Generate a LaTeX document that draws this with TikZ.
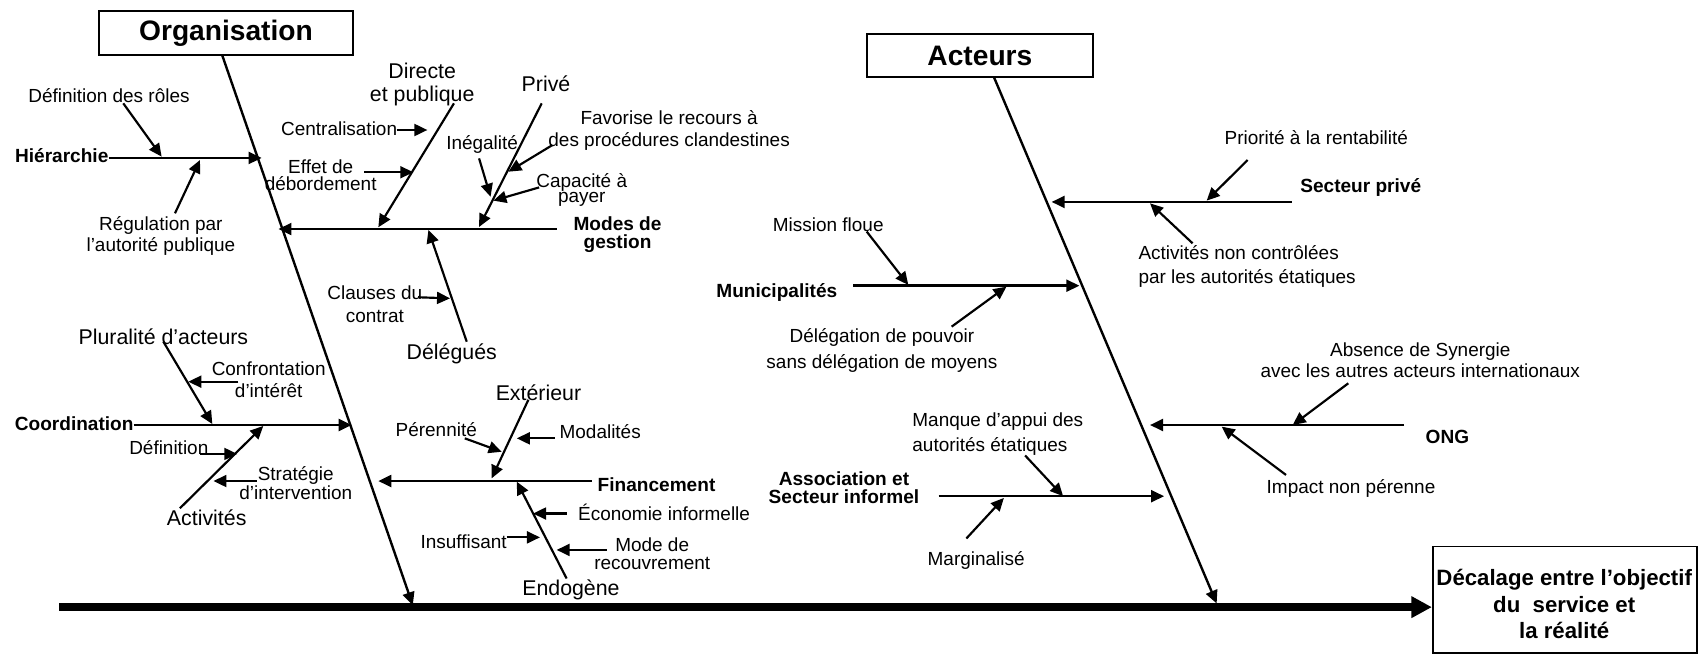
\documentclass[tikz,border=0pt]{standalone}
\usepackage{fontspec}
\setmainfont{Liberation Sans}
\usetikzlibrary{arrows.meta}
\begin{document}
\begin{tikzpicture}[x=1pt,y=-1pt,
  lbl/.style={inner sep=0pt, align=center, anchor=base, font=\fontsize{17.5}{21}\selectfont},
  big/.style={lbl, font=\fontsize{19.7}{21.5}\selectfont},
  cat/.style={lbl, font=\bfseries\fontsize{17.6}{17}\selectfont},
  titlebox/.style={draw, line width=1.8pt, inner sep=0pt, font=\bfseries\fontsize{26}{28}\selectfont},
  effectbox/.style={draw, line width=1.5pt, inner sep=0pt, align=center, font=\bfseries\fontsize{20.5}{24.5}\selectfont},
  spine/.style={line width=2.2pt, -{Triangle[length=12pt,width=11pt]}},
  arr/.style={line width=2pt, -{Triangle[length=12pt,width=11pt]}},
  mainspine/.style={line width=7.2pt, -{Triangle[length=19pt,width=19pt]}},
]
\useasboundingbox (0,0) rectangle (1567.3,603.6);

% ---------- title boxes ----------
\node[titlebox, minimum width=233.8pt, minimum height=40.2pt] (org) at (208.6,30.6) {Organisation};
\node[titlebox, minimum width=209pt, minimum height=40pt] (act) at (904.5,51.4) {Acteurs};
\node[effectbox, minimum width=244.1pt, minimum height=98.2pt] (eff) at (1444.45,553.7) {};
\node[lbl, font=\bfseries\fontsize{20.5}{24.5}\selectfont] (efftxt) at (1443.8,589.4) {Décalage entre l’objectif\\du\ \ service et\\la réalité};

% ---------- main spine ----------
\coordinate (ms0) at (54.5,560.4);
\draw[mainspine] (ms0) -- (eff.west |- ms0);

% ---------- Organisation ----------
\coordinate (os0) at (205,50.7);
\coordinate (os1) at (381,558.6);
\draw[spine] (os0) -- (os1);

% Hierarchie
\node[cat] (hier) at (57,150.3) {Hiérarchie};
\coordinate (hierT) at (241.5,145.8);
\draw[spine] (hier.east |- hierT) -- (hierT);
\node[lbl] (defroles) at (100.6,94.9) {Définition des rôles};
\coordinate (dr0) at (113.8,95.4); \coordinate (dr1) at (149.2,144.6);
\draw[arr] (dr0) -- (dr1);
\node[lbl, font=\fontsize{17.5}{20}\selectfont] (regul) at (148.5,232.3) {Régulation par\\l’autorité publique};
\coordinate (rg0) at (161.5,196.9); \coordinate (rg1) at (184.6,147.7);
\draw[arr] (rg0) -- (rg1);

% Modes de gestion
\node[cat] (modes) at (570,229.5) {Modes de\\gestion};
\coordinate (mg0) at (514.1,211.4); \coordinate (mgT) at (257,211.4);
\draw[spine] (mg0) -- (mgT);
\node[big] (directe) at (389.7,93.8) {Directe\\et publique};
\coordinate (di0) at (419,95.4); \coordinate (di1) at (349.2,209.8);
\draw[arr] (di0) -- (di1);
\node[lbl] (central) at (313,124.7) {Centralisation};
\coordinate (ce0) at (366,120); \coordinate (ce1) at (394.5,120);
\draw[arr] (ce0) -- (ce1);
\node[lbl, font=\fontsize{17.5}{16}\selectfont] (effet) at (296,176.1) {Effet de\\débordement};
\coordinate (ef0) at (336,159); \coordinate (ef1) at (381.5,159);
\draw[arr] (ef0) -- (ef1);
\node[big] (prive) at (504,84.1) {Privé};
\coordinate (pr0) at (500,95.4); \coordinate (pr1) at (442.2,209.5);
\draw[arr] (pr0) -- (pr1);
\node[lbl] (inegal) at (445,138) {Inégalité};
\coordinate (in0) at (442.2,146.2); \coordinate (in1) at (452.8,181.6);
\draw[arr] (in0) -- (in1);
\node[lbl, font=\fontsize{17.5}{21}\selectfont] (favor) at (617.6,135.6) {Favorise le recours à\\des procédures clandestines};
\coordinate (fa0) at (509.9,133.9); \coordinate (fa1) at (469.3,158.5);
\draw[arr] (fa0) -- (fa1);
\node[lbl, font=\fontsize{17.5}{13}\selectfont] (capac) at (537,187) {Capacité à\\payer};
\coordinate (ca0) at (497.6,173); \coordinate (ca1) at (455.4,185.2);
\draw[arr] (ca0) -- (ca1);
\node[big] (deleg) at (417,331.7) {Délégués};
\coordinate (de0) at (430.8,315.4); \coordinate (de1) at (395.4,212.3);
\draw[arr] (de0) -- (de1);
\node[lbl, font=\fontsize{17.5}{21.6}\selectfont] (clauses) at (346,298) {Clauses du\\contrat};
\coordinate (cl0) at (386,274.4); \coordinate (cl1) at (415.4,275.4);
\draw[arr] (cl0) -- (cl1);

% Coordination
\node[cat] (coord) at (68.5,397.7) {Coordination};
\coordinate (coT) at (324.6,392.3);
\draw[spine] (coord.east |- coT) -- (coT);
\node[big] (plural) at (150.8,317.8) {Pluralité d’acteurs};
\coordinate (pl0) at (150.8,315.4); \coordinate (pl1) at (196,391.4);
\draw[arr] (pl0) -- (pl1);
\node[lbl, font=\fontsize{17.5}{20.6}\selectfont] (confr) at (248,366.9) {Confrontation\\d’intérêt};
\coordinate (cf0) at (220,352.3); \coordinate (cf1) at (173.8,352.3);
\draw[arr] (cf0) -- (cf1);
\node[lbl] (defin) at (155.8,419.2) {Définition};
\coordinate (dn0) at (184.6,419); \coordinate (dn1) at (219,419);
\draw[arr] (dn0) -- (dn1);
\node[big] (activ) at (190.8,485.5) {Activités};
\coordinate (ac0) at (166,469.2); \coordinate (ac1) at (243,393.2);
\draw[arr] (ac0) -- (ac1);
\node[lbl, font=\fontsize{17.5}{16.3}\selectfont] (strat) at (273,461) {Stratégie\\d’intervention};
\coordinate (st0) at (237,444); \coordinate (st1) at (197,444);
\draw[arr] (st0) -- (st1);

% Financement
\node[cat] (financ) at (606,454) {Financement};
\coordinate (fi0) at (546,444); \coordinate (fiT) at (349.2,444);
\draw[spine] (fi0) -- (fiT);
\node[big] (exter) at (497,370.1) {Extérieur};
\coordinate (ex0) at (487.7,369); \coordinate (ex1) at (453.8,441.5);
\draw[arr] (ex0) -- (ex1);
\node[lbl] (perenn) at (402.7,402.7) {Pérennité};
\coordinate (pe0) at (429,404.6); \coordinate (pe1) at (463,417);
\draw[arr] (pe0) -- (pe1);
\node[lbl] (modal) at (554,404.8) {Modalités};
\coordinate (mo0) at (512,404.6); \coordinate (mo1) at (477,404.6);
\draw[arr] (mo0) -- (mo1);
\node[big] (endog) at (527,550.1) {Endogène};
\coordinate (en0) at (523,534); \coordinate (en1) at (477,444.6);
\draw[arr] (en0) -- (en1);
\node[lbl] (econ) at (613,480.3) {Économie informelle};
\coordinate (ec0) at (523,474); \coordinate (ec1) at (492,474);
\draw[arr] (ec0) -- (ec1);
\node[lbl] (insuff) at (428,506.3) {Insuffisant};
\coordinate (is0) at (467.7,496); \coordinate (is1) at (498.4,496);
\draw[arr] (is0) -- (is1);
\node[lbl, font=\fontsize{17.5}{16}\selectfont] (moderec) at (602,525.3) {Mode de\\recouvrement};
\coordinate (mr0) at (560,507.6); \coordinate (mr1) at (513.8,507.6);
\draw[arr] (mr0) -- (mr1);

% ---------- Acteurs ----------
\coordinate (as0) at (917.5,71.4);
\coordinate (as1) at (1123,557);
\draw[spine] (as0) -- (as1);

% Secteur prive
\node[cat] (secteur) at (1256,178) {Secteur privé};
\coordinate (sp0) at (1192.2,186.4); \coordinate (spT) at (970.7,186.4);
\draw[spine] (sp0) -- (spT);
\node[lbl] (prior) at (1215,133) {Priorité à la rentabilité};
\coordinate (po0) at (1151.6,147.7); \coordinate (po1) at (1113.8,185.2);
\draw[arr] (po0) -- (po1);
\node[lbl, align=left, anchor=base west, font=\fontsize{17.5}{22.2}\selectfont] (activnc) at (1050.7,261.7) {Activités non contrôlées\\par les autorités étatiques};
\coordinate (an0) at (1100.8,224.6); \coordinate (an1) at (1061.5,187.7);
\draw[arr] (an0) -- (an1);

% Municipalites
\node[cat] (munic) at (717,274.3) {Municipalités};
\coordinate (mu0) at (787.6,263.7); \coordinate (muT) at (996.3,263.7);
\draw[spine] (mu0) -- (muT);
\node[lbl] (mission) at (764.5,213.3) {Mission floue};
\coordinate (mi0) at (800,213.8); \coordinate (mi1) at (838.4,263);
\draw[arr] (mi0) -- (mi1);
\node[lbl, font=\fontsize{17.5}{23.8}\selectfont] (delegp) at (814,340.1) {Délégation de pouvoir\\sans délégation de moyens};
\coordinate (dp0) at (878.4,301.5); \coordinate (dp1) at (929,264.6);
\draw[arr] (dp0) -- (dp1);

% ONG
\node[cat] (ong) at (1336,409.3) {ONG};
\coordinate (on0) at (1296,392.3); \coordinate (onT) at (1061.5,392.3);
\draw[spine] (on0) -- (onT);
\node[lbl, font=\fontsize{17.5}{19}\selectfont] (absence) at (1311,348.3) {Absence de Synergie\\avec les autres acteurs internationaux};
\coordinate (ab0) at (1244.5,353.8); \coordinate (ab1) at (1193.2,392.3);
\draw[arr] (ab0) -- (ab1);
\node[lbl] (impact) at (1247,455.5) {Impact non pérenne};
\coordinate (im0) at (1187,438.4); \coordinate (im1) at (1127.6,393.8);
\draw[arr] (im0) -- (im1);

% Association et Secteur informel
\node[cat] (assoc) at (779,464.8) {Association et\\Secteur informel};
\coordinate (sa0) at (866.4,458); \coordinate (saT) at (1074.5,458);
\draw[spine] (sa0) -- (saT);
\node[lbl, align=left, anchor=base west, font=\fontsize{17.5}{23}\selectfont] (manque) at (842,416.9) {Manque d’appui des\\autorités étatiques};
\coordinate (mq0) at (946.2,420.4); \coordinate (mq1) at (981.3,458);
\draw[arr] (mq0) -- (mq1);
\node[lbl] (margin) at (901,522.2) {Marginalisé};
\coordinate (mn0) at (892,497); \coordinate (mn1) at (926.6,459.6);
\draw[arr] (mn0) -- (mn1);
\end{tikzpicture}
\end{document}
